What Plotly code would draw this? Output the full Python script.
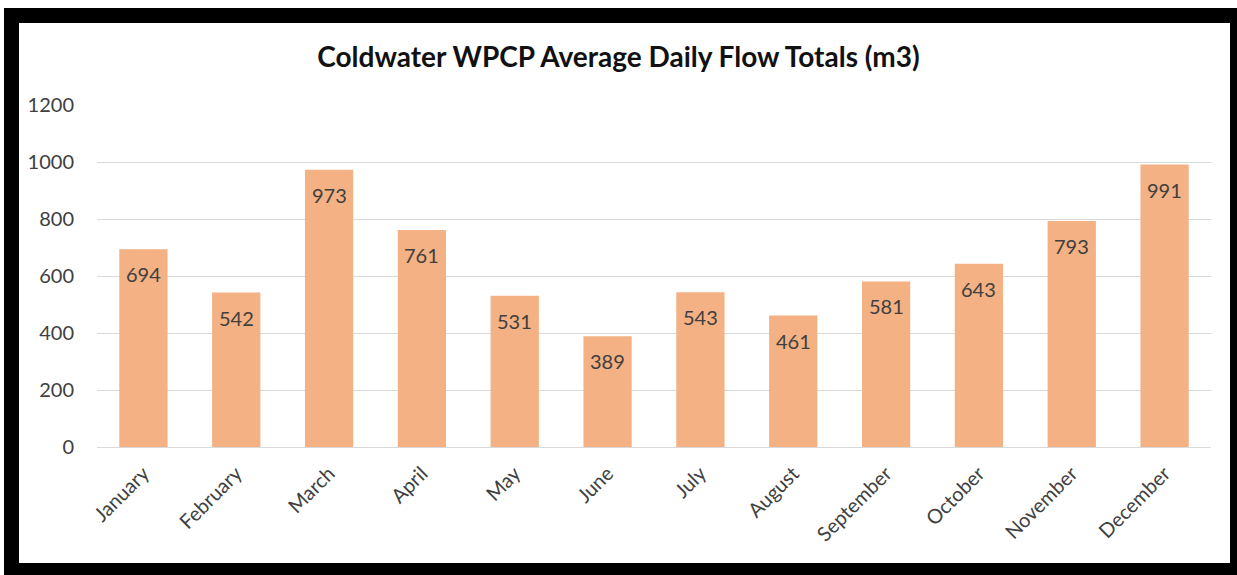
import plotly.graph_objects as go

months = ["January", "February", "March", "April", "May", "June", "July",
          "August", "September", "October", "November", "December"]
flows = [694, 542, 973, 761, 531, 389, 543, 461, 581, 643, 793, 991]
y_ticks = [0, 200, 400, 600, 800, 1000, 1200]
title_text = "Coldwater WPCP Average Daily Flow Totals (m3)"

W, H = 1237, 575
L, R, T, B = 97, 26, 105, 128
pw, ph = W - L - R, H - T - B

def px_x(p):
    return (p - L) / pw

def px_y(p):
    return (H - B - p) / ph

FONT = "Lato, Carlito, Calibri, sans-serif"

fig = go.Figure(go.Bar(
    x=months, y=flows,
    marker=dict(color="#F4B183", line=dict(width=0)),
    hoverinfo="x+y",
))

for m, v in zip(months, flows):
    fig.add_annotation(x=m, y=v, text=str(v), showarrow=False, yanchor="middle",
                       yshift=-25, font=dict(family=FONT, size=20, color="#404040"))

fig.update_layout(
    width=W, height=H,
    margin=dict(l=L, r=R, t=T, b=B, autoexpand=False),
    paper_bgcolor="white", plot_bgcolor="white",
    bargap=0.48,
    showlegend=False,
    title=dict(text="<b>" + title_text + "</b>", x=0.5, xref="container",
               y=1 - 57 / H, yref="container", yanchor="middle", xanchor="center",
               font=dict(family=FONT, size=28, color="#111111")),
    xaxis=dict(tickangle=-45, tickfont=dict(family=FONT, size=20, color="#404040"),
               showgrid=False, showline=False, ticks="outside", ticklen=6,
               tickcolor="rgba(0,0,0,0)"),
    yaxis=dict(range=[0, 1200], tickvals=y_ticks, showgrid=True, gridcolor="#D9D9D9",
               gridwidth=1, zeroline=True, zerolinecolor="#D9D9D9", zerolinewidth=1,
               tickfont=dict(family=FONT, size=20, color="#404040"),
               ticks="outside", ticklen=18, tickcolor="rgba(0,0,0,0)"),
)

fig.add_shape(type="rect", xref="paper", yref="paper",
              x0=px_x(11.5), x1=px_x(1237.5), y0=px_y(570.5), y1=px_y(15.5),
              line=dict(color="black", width=15), fillcolor="rgba(0,0,0,0)",
              layer="above")

fig.write_html("out.html", config={"displayModeBar": False},
               post_script="document.body.style.margin='0';document.body.style.overflow='hidden';")
